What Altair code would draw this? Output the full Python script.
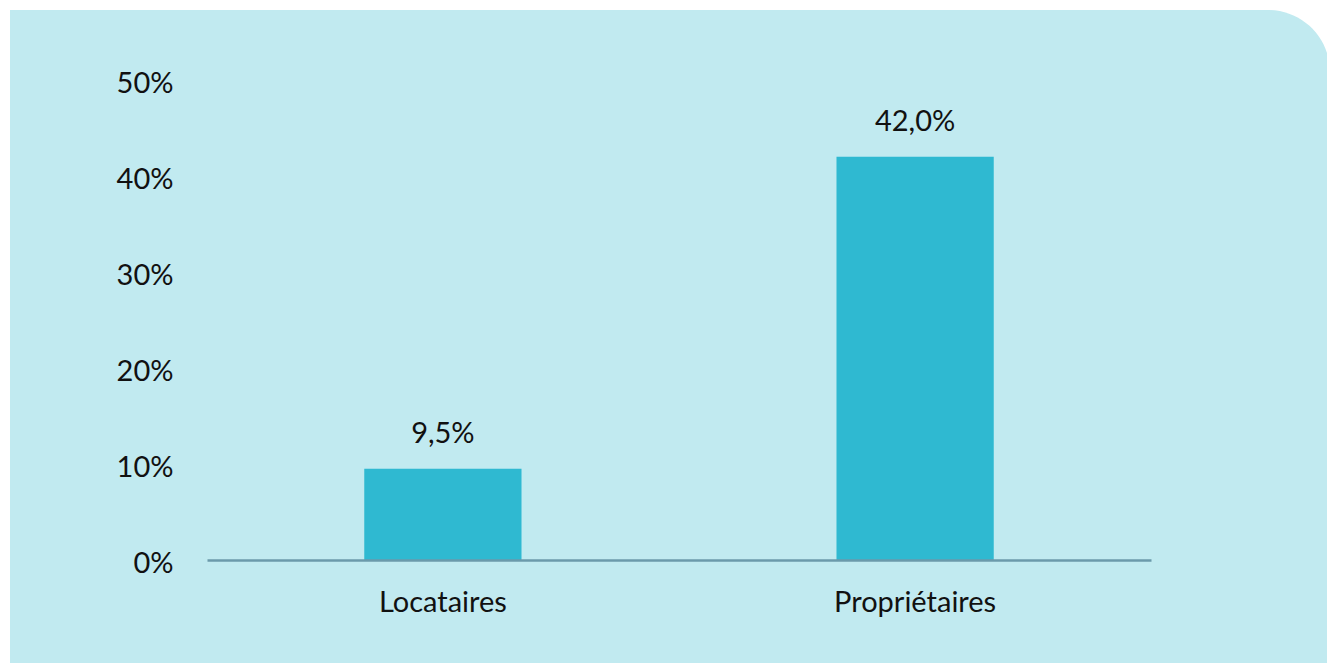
import altair as alt
import pandas as pd

categories = ["Locataires", "Propriétaires"]
values = [9.5, 42.0]
y_ticks = [0, 10, 20, 30, 40, 50]

df = pd.DataFrame({"cat": categories, "val": values})

FONT = "Lato"
FS = 29

base = alt.Chart(df)

panel = base.mark_rect(
    color="#c1eaf0", cornerRadiusTopRight=62
).encode(
    x=alt.value(-197), x2=alt.value(1123), y=alt.value(-70), y2=alt.value(590)
).transform_filter("datum.cat == 'Locataires'")

x_enc = alt.X(
    "cat:N", sort=categories, title=None,
    scale=alt.Scale(paddingInner=0.667, paddingOuter=0.333),
    axis=alt.Axis(labelAngle=0, labelFont=FONT, labelFontSize=FS, labelColor="#111111",
                  labelPadding=28, ticks=False, domainColor="#6b9aab", domainWidth=2.5,
                  grid=False, zindex=2),
)
y_enc = alt.Y(
    "val:Q", title=None,
    scale=alt.Scale(domain=[0, 50], nice=False),
    axis=alt.Axis(values=y_ticks, labelExpr="datum.value + '%'", labelFont=FONT,
                  labelFontSize=FS, labelColor="#111111", labelPadding=34,
                  labelOffset=3, ticks=False, domain=False, grid=False, zindex=2),
)

bars = base.mark_bar(color="#2fb9d1").encode(x=x_enc, y=y_enc)

text = base.mark_text(
    font=FONT, fontSize=FS, color="#111111", baseline="alphabetic", dy=-26
).transform_calculate(
    lab="replace(format(datum.val, '.1f'), '.', ',') + '%'"
).encode(x=alt.X("cat:N", sort=categories), y="val:Q", text="lab:N")

chart = alt.layer(panel, bars, text).properties(
    width=944, height=480,
    background="white",
    padding={"left": 207, "top": 80, "right": 176, "bottom": 103},
    autosize=alt.AutoSizeParams(type="none"),
).configure_view(stroke=None)

chart.save("out.html", embed_options={"renderer": "svg", "actions": False})
